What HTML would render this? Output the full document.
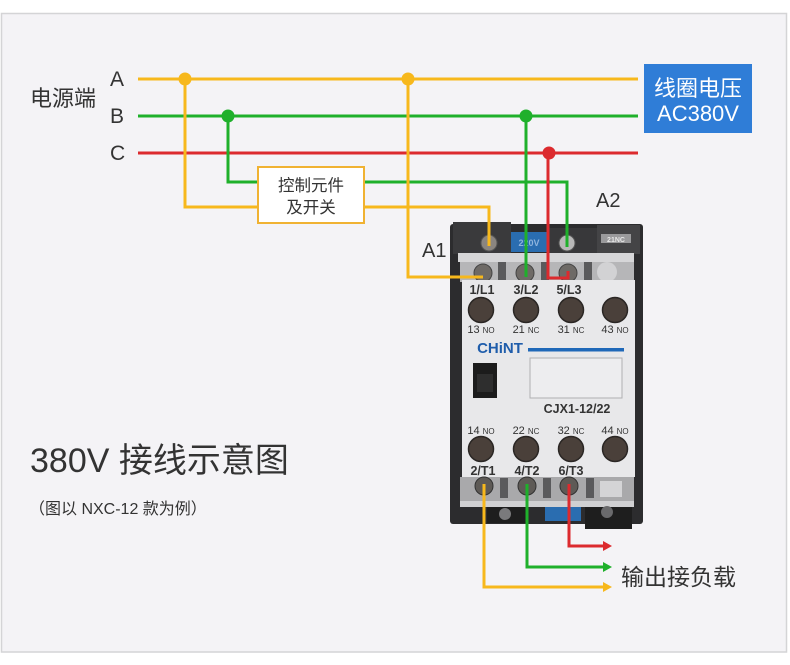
<!DOCTYPE html>
<html><head><meta charset="utf-8"><style>
html,body{margin:0;padding:0;background:#fff;width:790px;height:665px;overflow:hidden}
svg{display:block}
text{font-family:"Liberation Sans","Noto Sans CJK SC",sans-serif;fill:#333}
</style></head><body>
<svg width="790" height="665" viewBox="0 0 790 665" xmlns="http://www.w3.org/2000/svg">
<rect x="0" y="0" width="790" height="665" fill="#ffffff"/>
<rect x="1.5" y="13.5" width="785" height="638.5" fill="#f4f3f6" stroke="#d4d4d6" stroke-width="1.5"/>

<!-- contactor body -->
<g>
  <rect x="450" y="224" width="193" height="300" rx="3" fill="#2c2c2e"/>
  <rect x="453" y="222" width="58" height="32" fill="#3a3a3c"/>
  <rect x="511" y="232" width="36" height="20" fill="#2a6db0"/>
  <text x="529" y="246" font-size="9" font-weight="bold" text-anchor="middle" style="fill:#8fb4dd">220V</text>
  <rect x="547" y="228" width="50" height="25" fill="#38383a"/>
  <rect x="597" y="225" width="43" height="29" fill="#444446"/>
  <rect x="601" y="234" width="30" height="9" fill="#9a9a9c"/>
  <text x="616" y="242" font-size="7" font-weight="bold" text-anchor="middle" style="fill:#e8e8e8">21NC</text>
  <circle cx="489" cy="243" r="8" fill="#8a8580" stroke="#555" stroke-width="1"/>
  <circle cx="567" cy="243" r="8" fill="#b8b8b8" stroke="#555" stroke-width="1"/>
  <rect x="458" y="253" width="176" height="9" fill="#d6d6d8"/>
  <rect x="460" y="262" width="174" height="20" fill="#b6b6b8"/>
  <rect x="498" y="262" width="8" height="18" fill="#5a5a5c"/>
  <rect x="541" y="262" width="8" height="18" fill="#5a5a5c"/>
  <rect x="584" y="262" width="8" height="18" fill="#5a5a5c"/>
  <circle cx="483" cy="273" r="9" fill="#6e6a66" stroke="#444" stroke-width="1"/>
  <circle cx="525" cy="273" r="9" fill="#6e6a66" stroke="#444" stroke-width="1"/>
  <circle cx="568" cy="273" r="9" fill="#6e6a66" stroke="#444" stroke-width="1"/>
  <circle cx="607" cy="272" r="10" fill="#d2d2d4"/>
  <rect x="462" y="280" width="173" height="197" fill="#e8e8ea"/>
  <text x="482" y="294" font-size="12.5" font-weight="bold" text-anchor="middle">1/L1</text>
  <text x="526" y="294" font-size="12.5" font-weight="bold" text-anchor="middle">3/L2</text>
  <text x="569" y="294" font-size="12.5" font-weight="bold" text-anchor="middle">5/L3</text>
  <g fill="#4a403a" stroke="#2a2624" stroke-width="1.5">
    <circle cx="481" cy="310" r="12.5"/><circle cx="526" cy="310" r="12.5"/>
    <circle cx="571" cy="310" r="12.5"/><circle cx="615" cy="310" r="12.5"/>
  </g>
  <text x="481" y="333" font-size="11" text-anchor="middle">13 <tspan font-size="8">NO</tspan></text>
  <text x="526" y="333" font-size="11" text-anchor="middle">21 <tspan font-size="8">NC</tspan></text>
  <text x="571" y="333" font-size="11" text-anchor="middle">31 <tspan font-size="8">NC</tspan></text>
  <text x="615" y="333" font-size="11" text-anchor="middle">43 <tspan font-size="8">NO</tspan></text>
  <text x="500" y="353" font-size="15" font-weight="bold" text-anchor="middle" style="fill:#1f5dab">CHiNT</text>
  <rect x="528" y="348" width="96" height="3.5" fill="#1f68b8"/>
  <rect x="473" y="363" width="24" height="35" fill="#1c1c1c"/>
  <rect x="477" y="374" width="16" height="18" fill="#2e2e2e"/>
  <rect x="530" y="358" width="92" height="40" fill="#ededef" stroke="#b0b0b2" stroke-width="1"/>
  <text x="577" y="413" font-size="12.5" font-weight="bold" text-anchor="middle">CJX1-12/22</text>
  <text x="481" y="434" font-size="11" text-anchor="middle">14 <tspan font-size="8">NO</tspan></text>
  <text x="526" y="434" font-size="11" text-anchor="middle">22 <tspan font-size="8">NC</tspan></text>
  <text x="571" y="434" font-size="11" text-anchor="middle">32 <tspan font-size="8">NC</tspan></text>
  <text x="615" y="434" font-size="11" text-anchor="middle">44 <tspan font-size="8">NO</tspan></text>
  <g fill="#4a403a" stroke="#2a2624" stroke-width="1.5">
    <circle cx="481" cy="449" r="12.5"/><circle cx="526" cy="449" r="12.5"/>
    <circle cx="571" cy="449" r="12.5"/><circle cx="615" cy="449" r="12.5"/>
  </g>
  <text x="483" y="475" font-size="12.5" font-weight="bold" text-anchor="middle">2/T1</text>
  <text x="527" y="475" font-size="12.5" font-weight="bold" text-anchor="middle">4/T2</text>
  <text x="571" y="475" font-size="12.5" font-weight="bold" text-anchor="middle">6/T3</text>
  <rect x="460" y="477" width="174" height="24" fill="#a9a9ab"/>
  <rect x="500" y="478" width="8" height="20" fill="#5a5a5c"/>
  <rect x="543" y="478" width="8" height="20" fill="#5a5a5c"/>
  <rect x="586" y="478" width="8" height="20" fill="#5a5a5c"/>
  <circle cx="484" cy="486" r="9" fill="#5e5a56" stroke="#333" stroke-width="1"/>
  <circle cx="527" cy="486" r="9" fill="#5e5a56" stroke="#333" stroke-width="1"/>
  <circle cx="569" cy="486" r="9" fill="#5e5a56" stroke="#333" stroke-width="1"/>
  <rect x="600" y="481" width="22" height="16" fill="#d4d4d6"/>
  <rect x="460" y="501" width="174" height="6" fill="#d0d0d2"/>
  <rect x="487" y="507" width="40" height="16" fill="#1e1e1e"/>
  <circle cx="505" cy="514" r="6" fill="#7a7a7c"/>
  <rect x="545" y="507" width="36" height="14" fill="#2a6db0"/>
  <rect x="585" y="507" width="47" height="22" fill="#1e1e1e"/>
  <circle cx="607" cy="512" r="6" fill="#6a6a6c"/>
</g>

<!-- wires -->
<g fill="none" stroke-width="3" stroke-linejoin="miter">
  <line x1="138" y1="79" x2="638" y2="79" stroke="#f7b81c"/>
  <line x1="138" y1="116" x2="638" y2="116" stroke="#1fb02b"/>
  <line x1="138" y1="153" x2="638" y2="153" stroke="#dc2a2e"/>
  <polyline points="185,79 185,207 258,207" stroke="#f7b81c"/>
  <polyline points="228,116 228,182 258,182" stroke="#1fb02b"/>
  <polyline points="364,182 567,182 567,247" stroke="#1fb02b"/>
  <polyline points="364,207 489,207 489,246" stroke="#f7b81c"/>
  <polyline points="408,79 408,277 483,277" stroke="#f7b81c"/>
  <polyline points="526,116 526,277" stroke="#1fb02b"/>
  <polyline points="548,153 548,278 568,278 568,271" stroke="#dc2a2e"/>
  <polyline points="484,484 484,587 604,587" stroke="#f7b81c"/>
  <polyline points="527,484 527,567 604,567" stroke="#1fb02b"/>
  <polyline points="569,484 569,546 604,546" stroke="#dc2a2e"/>
</g>
<polygon points="603,582 612,587 603,592" fill="#f7b81c"/>
<polygon points="603,562 612,567 603,572" fill="#1fb02b"/>
<polygon points="603,541 612,546 603,551" fill="#dc2a2e"/>
<circle cx="185" cy="79" r="6.5" fill="#f7b81c"/>
<circle cx="408" cy="79" r="6.5" fill="#f7b81c"/>
<circle cx="228" cy="116" r="6.5" fill="#1fb02b"/>
<circle cx="526" cy="116" r="6.5" fill="#1fb02b"/>
<circle cx="549" cy="153" r="6.5" fill="#dc2a2e"/>

<!-- control box -->
<rect x="258" y="167" width="106" height="56" fill="#ffffff" stroke="#f0b232" stroke-width="2"/>
<text x="311" y="191" font-size="16.5" text-anchor="middle">控制元件</text>
<text x="311" y="213" font-size="16.5" text-anchor="middle">及开关</text>

<!-- coil voltage box -->
<rect x="644" y="64" width="108" height="69" fill="#2f7dd7"/>
<text x="698" y="96" font-size="22" text-anchor="middle" style="fill:#fff">线圈电压</text>
<text x="698" y="121" font-size="22" text-anchor="middle" style="fill:#fff">AC380V</text>

<!-- labels -->
<text x="30" y="106" font-size="22">电源端</text>
<text x="110" y="86" font-size="21">A</text>
<text x="110" y="123" font-size="21">B</text>
<text x="110" y="160" font-size="21">C</text>
<text x="422" y="257" font-size="20">A1</text>
<text x="596" y="207" font-size="20">A2</text>
<text x="621" y="585" font-size="23">输出接负载</text>
<text x="30" y="472" font-size="34">380V 接线示意图</text>
<text x="29" y="514" font-size="16">（图以 NXC-12 款为例）</text>
</svg>
</body></html>
